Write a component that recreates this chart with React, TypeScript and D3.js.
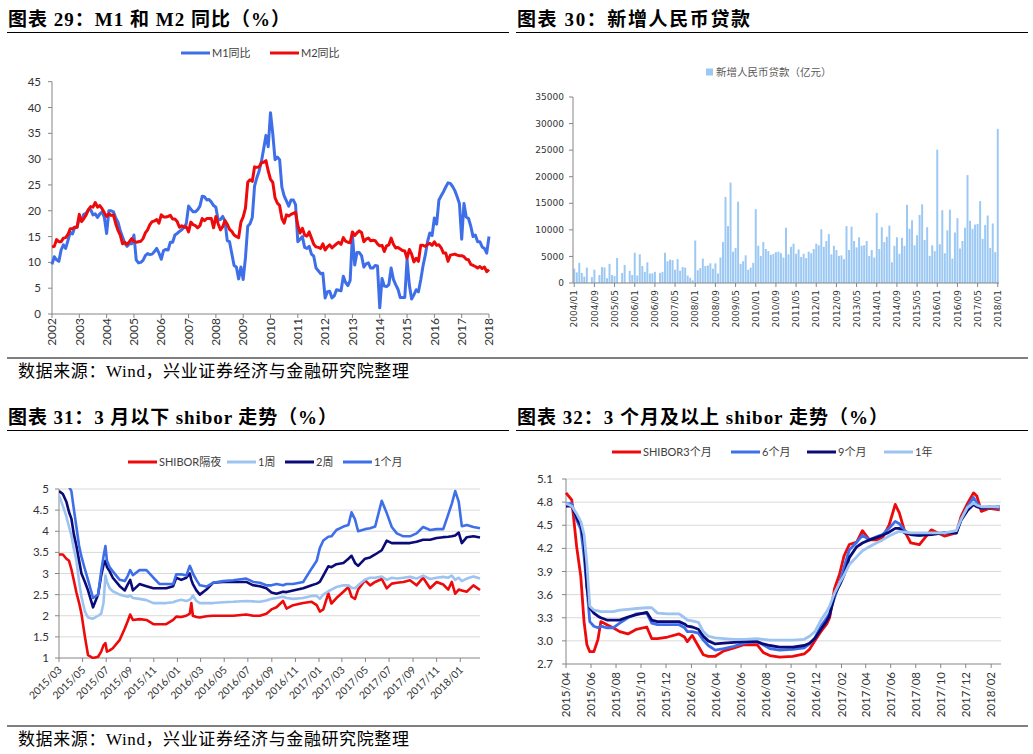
import React, { useEffect, useRef } from "react";
import * as d3 from "d3";

// ---------------- 图表29: M1 / M2 同比 (2002/01 - 2018/01, monthly) ----------------
const m1Yoy = [
  9.6, 11.1, 10.5, 10.2, 12.4, 13.4, 12.7, 14.2, 15.8, 15.5, 16.8, 16.8,
  18.6, 18.1, 19.3, 19.5, 20.2, 20.2, 19.2, 19.4, 18.7, 19.4, 19.8, 18.7,
  15.6, 20.0, 20.0, 19.8, 18.6, 17.8, 16.1, 14.9, 13.7, 13.1, 13.6, 13.6,
  15.3, 10.5, 9.9, 10.0, 10.4, 11.3, 11.7, 11.5, 11.6, 12.1, 12.7, 11.8,
  10.6, 12.3, 12.5, 12.4, 13.9, 13.9, 15.3, 15.6, 16.0, 16.3, 16.8, 17.5,
  20.9, 20.3, 19.8, 19.8, 20.2, 20.9, 22.8, 22.7, 22.1, 22.2, 21.7, 21.0,
  20.7, 18.2, 18.3, 18.9, 18.0, 14.2, 14.0, 11.7, 9.4, 9.1, 6.8, 9.1,
  6.7, 10.9, 17.0, 17.5, 18.7, 24.8, 26.4, 27.7, 29.5, 32.0, 34.6, 32.4,
  39.0, 34.9, 29.9, 30.4, 29.9, 24.6, 22.9, 21.9, 20.9, 22.1, 22.1, 21.2,
  14.0, 14.5, 15.0, 12.9, 12.7, 13.1, 11.6, 11.2, 8.9, 8.4, 7.8, 7.9,
  3.1, 4.3, 4.4, 3.1, 3.5, 4.7, 4.6, 4.5, 7.3, 6.1, 5.5, 6.5,
  15.3, 9.5, 11.9, 11.9, 11.3, 9.1, 9.7, 9.9, 8.9, 8.9, 9.4, 9.3,
  1.2, 6.9, 5.4, 5.3, 5.7, 8.9, 6.7, 5.7, 4.8, 3.2, 3.2, 3.2,
  10.6, 5.6, 2.9, 3.7, 4.7, 4.3, 6.6, 9.3, 11.4, 14.0, 15.7, 15.2,
  18.6, 17.4, 22.1, 22.9, 23.7, 24.6, 25.4, 25.3, 24.7, 23.9, 22.7, 21.4,
  14.5, 21.4, 18.8, 18.5, 17.0, 15.0, 15.3, 14.0, 14.0, 13.0, 12.7, 11.8,
  15.0,
];
const m2Yoy = [
  13.0, 13.1, 14.4, 14.0, 14.0, 14.7, 14.8, 15.4, 16.5, 16.5, 16.8, 16.8,
  19.3, 17.9, 18.5, 19.2, 20.2, 20.8, 20.7, 21.6, 20.7, 21.0, 20.4, 19.6,
  18.9, 19.4, 19.1, 19.2, 17.5, 16.2, 15.3, 13.6, 13.9, 13.5, 14.0, 14.6,
  14.1, 13.9, 14.0, 14.1, 14.6, 15.7, 16.3, 17.3, 17.9, 18.0, 18.3, 17.6,
  19.2, 18.8, 18.8, 18.9, 19.1, 18.4, 18.4, 17.9, 16.8, 17.1, 16.8, 16.9,
  15.9, 17.8, 17.3, 17.1, 16.7, 17.1, 18.5, 18.1, 18.5, 18.5, 18.5, 16.7,
  18.9, 17.5, 16.3, 16.9, 18.1, 17.4, 16.4, 16.0, 15.3, 15.0, 14.8, 17.8,
  18.8, 20.5, 25.5, 26.0, 25.7, 28.5, 28.4, 28.5, 29.3, 29.4, 29.7, 27.7,
  26.1, 25.5, 22.5, 21.5, 21.0, 18.5, 17.6, 19.2, 19.0, 19.3, 19.5, 19.7,
  17.2, 15.7, 16.6, 15.3, 15.1, 15.9, 14.7, 13.5, 13.0, 12.9, 12.7, 13.6,
  12.4, 13.0, 13.4, 12.8, 13.2, 13.6, 13.9, 13.5, 14.8, 14.1, 13.9, 13.8,
  15.9, 15.2, 15.7, 16.1, 15.8, 14.0, 14.5, 14.7, 14.2, 14.3, 14.2, 13.6,
  13.2, 13.3, 12.1, 13.2, 13.4, 14.7, 13.5, 12.8, 12.9, 12.6, 12.3, 12.2,
  10.8, 12.5, 11.6, 10.1, 10.8, 10.2, 13.3, 13.3, 13.1, 13.5, 13.7, 13.3,
  14.0, 13.3, 13.4, 12.8, 11.8, 11.8, 10.2, 11.4, 11.5, 11.6, 11.4, 11.3,
  11.3, 11.1, 10.6, 10.5, 9.6, 9.4, 9.2, 8.9, 9.2, 8.8, 9.1, 8.2,
  8.6,
];
const yearLabels = ["2002", "2003", "2004", "2005", "2006", "2007", "2008", "2009", "2010",
  "2011", "2012", "2013", "2014", "2015", "2016", "2017", "2018"];
const m1m2Ticks = [0, 5, 10, 15, 20, 25, 30, 35, 40, 45];

// ---------------- 图表30: 新增人民币贷款 (亿元, 2004/01 - 2018/01) ----------------
const newLoans = [
  2700, 2000, 3800, 1900, 1200, 2900, 50, 1100, 2500, 100, 1500, 3000,
  2900, 900, 3600, 1500, 1300, 4700, 50, 1900, 3400, 100, 2300, 1500,
  5700, 1400, 5400, 3200, 2100, 3900, 1800, 1800, 2100, 50, 1900, 2100,
  5700, 4100, 4400, 4300, 2500, 4500, 2300, 3000, 2900, 1400, 1000, 500,
  8000, 2400, 2800, 4600, 3200, 3300, 3700, 2700, 3700, 1800, 4800, 7700,
  16200, 10700, 18900, 5900, 6600, 15300, 3600, 4100, 5200, 2500, 2900, 3800,
  13900, 7000, 5100, 7700, 6400, 6000, 5300, 5500, 5800, 5900, 5600, 4800,
  10400, 5400, 6800, 7400, 5500, 6300, 4900, 5500, 4700, 5900, 5600, 6400,
  7400, 7100, 10100, 6800, 7900, 9200, 5400, 7000, 6200, 5100, 5200, 4500,
  10700, 6200, 10600, 7900, 6700, 8600, 7000, 7100, 7900, 5100, 6200, 4800,
  13200, 6400, 10500, 7700, 8700, 10800, 3900, 7000, 8600, 5500, 8500, 7000,
  14700, 10200, 11800, 7100, 9000, 12800, 14800, 8100, 10500, 5100, 7100, 6000,
  25100, 7300, 13700, 5600, 9900, 13800, 4600, 9500, 12200, 6500, 7900, 10400,
  20300, 11700, 10200, 11000, 11100, 15400, 8300, 10900, 12700, 6600, 11200, 5800,
  29000,
];
const loanTickLabels = ["2004/01", "2004/09", "2005/05", "2006/01", "2006/09", "2007/05",
  "2008/01", "2008/09", "2009/05", "2010/01", "2010/09", "2011/05", "2012/01", "2012/09",
  "2013/05", "2014/01", "2014/09", "2015/05", "2016/01", "2016/09", "2017/05", "2018/01"];
const loanYTicks = [0, 5000, 10000, 15000, 20000, 25000, 30000, 35000];

// ---------------- 图表31: 3月以下 shibor ----------------
const shortDates = [
  "2015-03-01", "2015-03-11", "2015-03-20", "2015-03-27", "2015-04-02", "2015-04-08", "2015-04-15", "2015-04-22", "2015-04-28", "2015-05-07",
  "2015-05-15", "2015-05-28", "2015-06-10", "2015-06-18", "2015-06-24", "2015-06-29", "2015-07-03", "2015-07-10", "2015-07-18", "2015-08-05",
  "2015-08-18", "2015-08-26", "2015-09-01", "2015-09-08", "2015-09-25", "2015-10-13", "2015-10-31", "2015-11-16", "2015-12-03", "2015-12-21",
  "2015-12-29", "2016-01-11", "2016-01-24", "2016-02-02", "2016-02-06", "2016-02-10", "2016-02-19", "2016-02-28", "2016-03-16", "2016-04-02",
  "2016-04-28", "2016-05-24", "2016-06-27", "2016-07-15", "2016-08-01", "2016-08-18", "2016-08-31", "2016-09-13", "2016-09-30", "2016-10-09",
  "2016-10-26", "2016-11-21", "2016-12-13", "2016-12-26", "2017-01-03", "2017-01-12", "2017-01-25", "2017-02-02", "2017-02-15", "2017-03-05",
  "2017-03-18", "2017-03-26", "2017-04-04", "2017-04-12", "2017-04-30", "2017-05-13", "2017-05-26", "2017-06-12", "2017-06-25", "2017-07-08",
  "2017-07-21", "2017-08-07", "2017-08-24", "2017-09-10", "2017-09-27", "2017-10-15", "2017-11-01", "2017-11-18", "2017-12-01", "2017-12-10",
  "2017-12-19", "2017-12-28", "2018-01-05", "2018-01-18", "2018-02-04", "2018-02-21",
];
const shiborON = [
  3.45, 3.45, 3.35, 3.3, 3.1, 2.85, 2.55, 2.3, 2.05, 1.5,
  1.07, 1.0, 1.03, 1.15, 1.3, 1.35, 1.15, 1.18, 1.23, 1.43,
  1.7, 1.88, 2.03, 1.9, 1.92, 1.9, 1.8, 1.8, 1.8, 1.9,
  1.98, 1.97, 2.0, 2.05, 2.3, 2.0, 1.97, 1.96, 1.99, 2.0,
  2.0, 2.0, 2.03, 2.0, 2.0, 2.05, 2.15, 2.2, 2.35, 2.17,
  2.25, 2.3, 2.33, 2.25, 2.1, 2.15, 2.53, 2.29, 2.42, 2.57,
  2.68, 2.45, 2.4, 2.62, 2.84, 2.72, 2.8, 2.87, 2.65, 2.76,
  2.78, 2.8, 2.84, 2.72, 2.9, 2.65, 2.8, 2.74, 2.62, 2.8,
  2.52, 2.62, 2.6, 2.57, 2.72, 2.61,
];
const shibor1W = [
  4.85, 4.6, 4.35, 4.1, 3.9, 3.6, 3.3, 2.8, 2.45, 2.1,
  1.96, 1.93, 2.0, 2.05, 2.3, 2.95, 2.8, 2.65, 2.58, 2.5,
  2.47, 2.45, 2.48, 2.42, 2.4, 2.37, 2.3, 2.3, 2.3, 2.32,
  2.35, 2.38, 2.35, 2.38, 2.42, 2.48, 2.35, 2.3, 2.3, 2.3,
  2.32, 2.33, 2.35, 2.34, 2.33, 2.36, 2.4, 2.42, 2.45, 2.42,
  2.4, 2.42, 2.47, 2.47, 2.4, 2.5, 2.58, 2.62, 2.68, 2.72,
  2.72, 2.66, 2.65, 2.72, 2.86, 2.9, 2.9, 2.93, 2.85, 2.9,
  2.88, 2.9, 2.92, 2.88, 2.95, 2.87, 2.9, 2.92, 2.9, 2.95,
  2.85, 2.9, 2.82, 2.88, 2.93, 2.88,
];
const shibor2W = [
  4.95, 4.88, 4.7, 4.45, 4.3, 3.95, 3.65, 3.3, 3.0, 2.8,
  2.6, 2.2, 2.5, 2.95, 3.2, 3.3, 3.15, 3.05, 2.9, 2.7,
  2.6, 2.75, 2.85, 2.6, 2.75, 2.7, 2.65, 2.65, 2.65, 2.7,
  2.9, 2.85, 2.9, 3.0, 2.85, 2.75, 2.6, 2.5, 2.62, 2.78,
  2.8, 2.8, 2.8, 2.72, 2.7, 2.65, 2.55, 2.52, 2.57, 2.56,
  2.6, 2.65, 2.72, 2.76, 2.8, 2.95, 3.17, 3.15, 3.22, 3.25,
  3.35, 3.42, 3.25, 3.18, 3.35, 3.38, 3.45, 3.55, 3.78, 3.72,
  3.72, 3.72, 3.72, 3.75, 3.8, 3.8, 3.84, 3.86, 3.87, 3.88,
  3.9, 3.97, 3.72, 3.86, 3.88, 3.85,
];
const shibor1M = [
  5.2, 5.2, 5.1, 5.05, 4.95, 4.55, 4.1, 3.65, 3.4, 3.1,
  2.85, 2.42, 2.5, 3.05, 3.4, 3.65, 3.3, 3.15, 3.05, 2.85,
  2.82, 2.95, 3.08, 2.96, 3.08, 3.08, 2.9, 2.75, 2.75, 2.75,
  2.98, 2.98, 2.95, 3.18, 3.1, 3.0, 2.85, 2.72, 2.69, 2.78,
  2.82, 2.84, 2.88, 2.8, 2.78, 2.72, 2.72, 2.75, 2.72, 2.75,
  2.75, 2.8, 3.12, 3.3, 3.6, 3.78, 3.87, 3.88, 4.03, 4.11,
  4.15, 4.45, 4.28, 4.0, 4.05, 4.07, 4.11, 4.72, 4.43, 4.1,
  3.95, 3.88, 3.88, 3.95, 4.1, 4.03, 4.05, 4.05, 4.4, 4.65,
  4.95, 4.7, 4.12, 4.15, 4.1, 4.07,
];
const shortYTicks = [1, 1.5, 2, 2.5, 3, 3.5, 4, 4.5, 5];

// ---------------- 图表32: 3个月及以上 shibor ----------------
const longDates = [
  "2015-04-01", "2015-04-15", "2015-04-27", "2015-05-07", "2015-05-15", "2015-05-22", "2015-05-29", "2015-06-08", "2015-06-18", "2015-06-25",
  "2015-07-10", "2015-07-25", "2015-08-10", "2015-08-30", "2015-09-20", "2015-10-15", "2015-10-27", "2015-11-10", "2015-12-05", "2016-01-02",
  "2016-01-15", "2016-01-22", "2016-02-03", "2016-02-18", "2016-03-01", "2016-03-13", "2016-03-30", "2016-04-20", "2016-05-15", "2016-06-08",
  "2016-07-10", "2016-07-25", "2016-08-10", "2016-09-03", "2016-10-05", "2016-11-02", "2016-11-15", "2016-11-28", "2016-12-14", "2016-12-27",
  "2017-01-03", "2017-01-15", "2017-01-27", "2017-02-07", "2017-02-20", "2017-03-10", "2017-03-24", "2017-04-10", "2017-04-27", "2017-05-12",
  "2017-05-28", "2017-06-12", "2017-06-22", "2017-07-05", "2017-07-20", "2017-08-10", "2017-09-08", "2017-10-10", "2017-11-08", "2017-11-20",
  "2017-12-05", "2017-12-20", "2017-12-28", "2018-01-08", "2018-01-28", "2018-02-22",
];
const shibor3M = [
  4.92, 4.83, 4.22, 3.84, 3.25, 2.95, 2.86, 2.86, 3.02, 3.25,
  3.21, 3.17, 3.12, 3.09, 3.15, 3.18, 3.03, 3.03, 3.05, 3.09,
  3.05, 2.99, 3.07, 2.93, 2.82, 2.8, 2.8, 2.87, 2.91, 2.95,
  2.95, 2.85, 2.81, 2.79, 2.8, 2.83, 2.89, 3.0, 3.13, 3.22,
  3.3, 3.68, 3.86, 4.1, 4.25, 4.28, 4.43, 4.31, 4.31, 4.34,
  4.5, 4.77, 4.66, 4.42, 4.27, 4.25, 4.44, 4.36, 4.4, 4.62,
  4.78, 4.92, 4.88, 4.68, 4.72, 4.7,
];
const shibor6M = [
  4.78, 4.78, 4.57, 4.45, 4.1, 3.7, 3.25, 3.19, 3.17, 3.19,
  3.17, 3.17, 3.23, 3.3, 3.35, 3.36, 3.23, 3.21, 3.21, 3.21,
  3.17, 3.12, 3.12, 3.1, 3.01, 2.94, 2.88, 2.9, 2.93, 2.97,
  2.99, 2.95, 2.9, 2.88, 2.89, 2.91, 2.96, 3.04, 3.2, 3.3,
  3.36, 3.56, 3.75, 3.95, 4.18, 4.28, 4.37, 4.31, 4.35, 4.38,
  4.46, 4.55, 4.52, 4.43, 4.38, 4.37, 4.39, 4.4, 4.4, 4.58,
  4.74, 4.86, 4.79, 4.72, 4.74, 4.72,
];
const shibor9M = [
  4.75, 4.75, 4.6, 4.5, 4.28, 3.7, 3.43, 3.36, 3.32, 3.3,
  3.27, 3.27, 3.27, 3.31, 3.34, 3.37, 3.27, 3.25, 3.25, 3.25,
  3.22, 3.19, 3.18, 3.15, 3.06, 3.0, 2.96, 2.97, 2.98, 2.99,
  2.99, 2.96, 2.94, 2.92, 2.92, 2.94, 2.97, 3.03, 3.16, 3.26,
  3.33, 3.6, 3.72, 3.85, 4.08, 4.22, 4.27, 4.31, 4.34, 4.37,
  4.41, 4.46, 4.46, 4.4, 4.38, 4.37, 4.38, 4.4, 4.4, 4.57,
  4.69, 4.77, 4.74, 4.72, 4.73, 4.74,
];
const shibor1Y = [
  4.78, 4.75, 4.65, 4.55, 4.38, 4.0, 3.45, 3.4, 3.39, 3.38,
  3.38, 3.38, 3.4, 3.41, 3.42, 3.43, 3.43, 3.36, 3.35, 3.35,
  3.3, 3.27, 3.26, 3.24, 3.12, 3.06, 3.04, 3.03, 3.02, 3.02,
  3.03, 3.02, 3.01, 3.01, 3.01, 3.02, 3.06, 3.12, 3.28, 3.38,
  3.45, 3.62, 3.75, 3.85, 3.99, 4.09, 4.17, 4.22, 4.27, 4.31,
  4.36, 4.4, 4.42, 4.41, 4.4, 4.4, 4.4, 4.4, 4.43, 4.58,
  4.73, 4.79, 4.76, 4.74, 4.74, 4.74,
];
const longYTicks = [2.7, 3.0, 3.3, 3.6, 3.9, 4.2, 4.5, 4.8, 5.1];

const RED = "#ee0a0a";
const BLUE = "#3f6fe8";
const NAVY = "#0a0a78";
const LIGHT = "#9dc3f0";
const AXIS = "#868686";
const GRID = "#d9d9d9";
const LABEL = "#333333";
const NUM_FONT = "Lato, 'Noto Sans CJK SC', sans-serif";
const SMALL_FONT = "'DejaVu Sans', 'Noto Sans CJK SC', sans-serif";
const TITLE_FONT = "'Liberation Serif', 'Noto Sans CJK SC', serif";
const SOURCE = "数据来源：Wind，兴业证券经济与金融研究院整理";

type Sel = d3.Selection<SVGGElement, unknown, null, undefined>;

function drawTitle(g: Sel, x: number, y: number, text: string, width: number, x2: number) {
  g.append("text")
    .attr("x", x)
    .attr("y", y)
    .attr("font-family", TITLE_FONT)
    .attr("font-size", 19)
    .attr("font-weight", "bold")
    .attr("fill", "#000")
    .attr("textLength", width)
    .attr("lengthAdjust", "spacing")
    .text(text);
  g.append("line")
    .attr("x1", x - 1)
    .attr("x2", x2)
    .attr("y1", y + 6.5)
    .attr("y2", y + 6.5)
    .attr("stroke", "#000")
    .attr("stroke-width", 1);
}

function legendLine(g: Sel, x: number, y: number, color: string, label: string, w = 3) {
  g.append("line")
    .attr("x1", x)
    .attr("x2", x + 29)
    .attr("y1", y)
    .attr("y2", y)
    .attr("stroke", color)
    .attr("stroke-width", w);
  g.append("text")
    .attr("x", x + 31)
    .attr("y", y)
    .attr("dy", "0.35em")
    .attr("font-family", NUM_FONT)
    .attr("font-size", 11)
    .attr("fill", "#404040")
    .text(label);
}

function drawSource(g: Sel, y: number) {
  g.append("text")
    .attr("x", 18)
    .attr("y", y)
    .attr("font-family", TITLE_FONT)
    .attr("font-size", 17)
    .attr("letter-spacing", 0.6)
    .attr("fill", "#000")
    .text(SOURCE);
}

const App: React.FC = () => {
  const svgRef = useRef<SVGSVGElement>(null);

  useEffect(() => {
    if (!svgRef.current) return;
    const svg = d3.select(svgRef.current);
    svg.selectAll("*").remove();
    const root = svg.append("g") as unknown as Sel;

    root.append("rect").attr("width", 1033).attr("height", 754).attr("fill", "#fff");

    // ======== 图表29 ========
    drawTitle(root, 8, 26, "图表 29：M1 和 M2 同比（%）", 282, 509);
    legendLine(root, 181, 53, BLUE, "M1同比");
    legendLine(root, 270, 53, RED, "M2同比");

    const x1 = d3.scaleLinear().domain([0, m1Yoy.length - 1]).range([52, 489]);
    const y1 = d3.scaleLinear().domain([0, 45]).range([314, 81.7]);
    const c1 = root.append("g");
    c1.append("line").attr("x1", 52).attr("x2", 52).attr("y1", y1(45)).attr("y2", y1(0)).attr("stroke", AXIS);
    c1.append("line").attr("x1", 52).attr("x2", 489).attr("y1", y1(0)).attr("y2", y1(0)).attr("stroke", AXIS);
    m1m2Ticks.forEach((t) => {
      c1.append("line").attr("x1", 48).attr("x2", 52).attr("y1", y1(t)).attr("y2", y1(t)).attr("stroke", AXIS);
      c1.append("text")
        .attr("x", 41)
        .attr("y", y1(t))
        .attr("dy", "0.35em")
        .attr("text-anchor", "end")
        .attr("font-family", NUM_FONT)
        .attr("font-size", 11.5)
        .attr("fill", LABEL)
        .text(t);
    });
    yearLabels.forEach((lab, i) => {
      const xx = x1(i * 12);
      c1.append("line").attr("x1", xx).attr("x2", xx).attr("y1", 314).attr("y2", 318).attr("stroke", AXIS);
      c1.append("text")
        .attr("transform", `translate(${xx},318) rotate(-90)`)
        .attr("dy", "0.35em")
        .attr("text-anchor", "end")
        .attr("font-family", NUM_FONT)
        .attr("font-size", 12)
        .attr("fill", LABEL)
        .text(lab);
    });
    const line1 = d3.line<number>().x((_, i) => x1(i)).y((d) => y1(d)).curve(d3.curveLinear);
    c1.append("path").attr("d", line1(m1Yoy)).attr("fill", "none").attr("stroke", BLUE)
      .attr("stroke-width", 3).attr("stroke-linejoin", "round");
    c1.append("path").attr("d", line1(m2Yoy)).attr("fill", "none").attr("stroke", RED)
      .attr("stroke-width", 3).attr("stroke-linejoin", "round");

    // ======== 图表30 ========
    drawTitle(root, 517, 26, "图表 30：新增人民币贷款", 233, 1028);
    const fmtMonth = d3.timeFormat("%Y/%m");
    const loanMonths = d3.timeMonth.range(new Date(2004, 0, 1), new Date(2018, 1, 1)).map(fmtMonth);
    const xb = d3.scaleBand().domain(loanMonths).range([573, 999]).paddingInner(0.22).paddingOuter(0.1);
    const y2 = d3.scaleLinear().domain([0, 35000]).range([283, 97]);
    const c2 = root.append("g");
    c2.append("rect").attr("x", 706).attr("y", 68.5).attr("width", 7).attr("height", 7).attr("fill", "#9cc8f4");
    c2.append("text").attr("x", 716).attr("y", 72).attr("dy", "0.35em")
      .attr("font-family", NUM_FONT).attr("font-size", 10.5).attr("fill", "#595959")
      .text("新增人民币贷款（亿元）");
    c2.selectAll("rect.bar")
      .data(newLoans)
      .join("rect")
      .attr("class", "bar")
      .attr("x", (_, i) => xb(loanMonths[i]) as number)
      .attr("width", xb.bandwidth())
      .attr("y", (d) => y2(d))
      .attr("height", (d) => y2(0) - y2(d))
      .attr("fill", "#9cc8f4");
    c2.append("line").attr("x1", 573).attr("x2", 573).attr("y1", 97).attr("y2", 283).attr("stroke", AXIS);
    c2.append("line").attr("x1", 573).attr("x2", 999).attr("y1", 283).attr("y2", 283).attr("stroke", AXIS);
    loanYTicks.forEach((t) => {
      c2.append("line").attr("x1", 569).attr("x2", 573).attr("y1", y2(t)).attr("y2", y2(t)).attr("stroke", AXIS);
      c2.append("text").attr("x", 564).attr("y", y2(t)).attr("dy", "0.35em").attr("text-anchor", "end")
        .attr("font-family", SMALL_FONT).attr("font-size", 9).attr("fill", LABEL).text(t);
    });
    loanTickLabels.forEach((lab) => {
      const xx = (xb(lab) as number) + xb.bandwidth() / 2;
      c2.append("line").attr("x1", xx).attr("x2", xx).attr("y1", 283).attr("y2", 287).attr("stroke", AXIS);
      c2.append("text")
        .attr("transform", `translate(${xx},290) rotate(-90)`)
        .attr("dy", "0.35em")
        .attr("text-anchor", "end")
        .attr("font-family", SMALL_FONT)
        .attr("font-size", 9)
        .attr("fill", LABEL)
        .text(lab);
    });

    // separator + source (top)
    root.append("line").attr("x1", 7).attr("x2", 1028).attr("y1", 358).attr("y2", 358).attr("stroke", "#000");
    drawSource(root, 377);

    const parse = d3.timeParse("%Y-%m-%d");

    // ======== 图表31 ========
    drawTitle(root, 8, 424, "图表 31：3 月以下 shibor 走势（%）", 329, 509);
    legendLine(root, 128, 462, RED, "SHIBOR隔夜");
    legendLine(root, 227, 462, LIGHT, "1周");
    legendLine(root, 285, 462, NAVY, "2周");
    legendLine(root, 343, 462, BLUE, "1个月");

    const sDates = shortDates.map((d) => parse(d) as Date);
    const x3 = d3.scaleTime().domain([new Date(2015, 2, 1), new Date(2018, 1, 21)]).range([59, 480]);
    const y3 = d3.scaleLinear().domain([1, 5]).range([658, 489]);
    const c3 = root.append("g");
    shortYTicks.forEach((t) => {
      if (t > 1) {
        c3.append("line").attr("x1", 59).attr("x2", 480).attr("y1", y3(t)).attr("y2", y3(t)).attr("stroke", GRID);
      }
      c3.append("line").attr("x1", 55).attr("x2", 59).attr("y1", y3(t)).attr("y2", y3(t)).attr("stroke", AXIS);
      c3.append("text").attr("x", 49).attr("y", y3(t)).attr("dy", "0.35em").attr("text-anchor", "end")
        .attr("font-family", NUM_FONT).attr("font-size", 11.5).attr("fill", LABEL).text(t);
    });
    c3.append("line").attr("x1", 59).attr("x2", 59).attr("y1", 489).attr("y2", 658).attr("stroke", AXIS);
    c3.append("line").attr("x1", 59).attr("x2", 480).attr("y1", 658).attr("y2", 658).attr("stroke", AXIS);
    d3.timeMonth.range(new Date(2015, 2, 1), new Date(2018, 0, 2), 2).forEach((d) => {
      const xx = x3(d);
      c3.append("line").attr("x1", xx).attr("x2", xx).attr("y1", 658).attr("y2", 662).attr("stroke", AXIS);
      c3.append("text")
        .attr("transform", `translate(${xx + 1},668) rotate(-45)`)
        .attr("dy", "0.35em")
        .attr("text-anchor", "end")
        .attr("font-family", NUM_FONT)
        .attr("font-size", 10.5)
        .attr("fill", LABEL)
        .text(fmtMonth(d));
    });
    svg.append("clipPath").attr("id", "clip3").append("rect")
      .attr("x", 59).attr("y", 488).attr("width", 422).attr("height", 171);
    const line3 = d3.line<number>().x((_, i) => x3(sDates[i])).y((d) => y3(d));
    const lines3 = c3.append("g").attr("clip-path", "url(#clip3)");
    ([[shiborON, RED], [shibor1W, LIGHT], [shibor2W, NAVY], [shibor1M, BLUE]] as [number[], string][])
      .forEach(([vals, col]) => {
        lines3.append("path").attr("d", line3(vals)).attr("fill", "none").attr("stroke", col)
          .attr("stroke-width", 2.6).attr("stroke-linejoin", "round");
      });

    // ======== 图表32 ========
    drawTitle(root, 517, 424, "图表 32：3 个月及以上 shibor 走势（%）", 371, 1028);
    legendLine(root, 612, 452, RED, "SHIBOR3个月");
    legendLine(root, 731, 452, BLUE, "6个月");
    legendLine(root, 807, 452, NAVY, "9个月");
    legendLine(root, 884, 452, LIGHT, "1年");

    const lDates = longDates.map((d) => parse(d) as Date);
    const x4 = d3.scaleTime().domain([new Date(2015, 3, 1), new Date(2018, 1, 25)]).range([566, 1001]);
    const y4 = d3.scaleLinear().domain([2.7, 5.1]).range([664, 479]);
    const c4 = root.append("g");
    longYTicks.forEach((t, i) => {
      if (i > 0) {
        c4.append("line").attr("x1", 566).attr("x2", 1001).attr("y1", y4(t)).attr("y2", y4(t)).attr("stroke", GRID);
      }
      c4.append("line").attr("x1", 562).attr("x2", 566).attr("y1", y4(t)).attr("y2", y4(t)).attr("stroke", AXIS);
      c4.append("text").attr("x", 553).attr("y", y4(t)).attr("dy", "0.35em").attr("text-anchor", "end")
        .attr("font-family", NUM_FONT).attr("font-size", 11.5).attr("fill", LABEL).text(t.toFixed(1));
    });
    c4.append("line").attr("x1", 566).attr("x2", 566).attr("y1", 479).attr("y2", 664).attr("stroke", AXIS);
    c4.append("line").attr("x1", 566).attr("x2", 1001).attr("y1", 664).attr("y2", 664).attr("stroke", AXIS);
    d3.timeMonth.range(new Date(2015, 3, 1), new Date(2018, 1, 2), 2).forEach((d) => {
      const xx = x4(d);
      c4.append("line").attr("x1", xx).attr("x2", xx).attr("y1", 664).attr("y2", 668).attr("stroke", AXIS);
      c4.append("text")
        .attr("transform", `translate(${xx},672) rotate(-90)`)
        .attr("dy", "0.35em")
        .attr("text-anchor", "end")
        .attr("font-family", NUM_FONT)
        .attr("font-size", 11.5)
        .attr("fill", LABEL)
        .text(fmtMonth(d));
    });
    const line4 = d3.line<number>().x((_, i) => x4(lDates[i])).y((d) => y4(d));
    ([[shibor3M, RED], [shibor6M, BLUE], [shibor9M, NAVY], [shibor1Y, LIGHT]] as [number[], string][])
      .forEach(([vals, col]) => {
        c4.append("path").attr("d", line4(vals)).attr("fill", "none").attr("stroke", col)
          .attr("stroke-width", 2.8).attr("stroke-linejoin", "round");
      });

    // separator + source (bottom)
    root.append("line").attr("x1", 7).attr("x2", 1028).attr("y1", 726).attr("y2", 726).attr("stroke", "#000");
    drawSource(root, 745);
  }, []);

  return (
    <svg
      ref={svgRef}
      width={1033}
      height={754}
      viewBox="0 0 1033 754"
      style={{ position: "absolute", left: 0, top: 0, background: "#fff", display: "block" }}
    />
  );
};

export default App;
